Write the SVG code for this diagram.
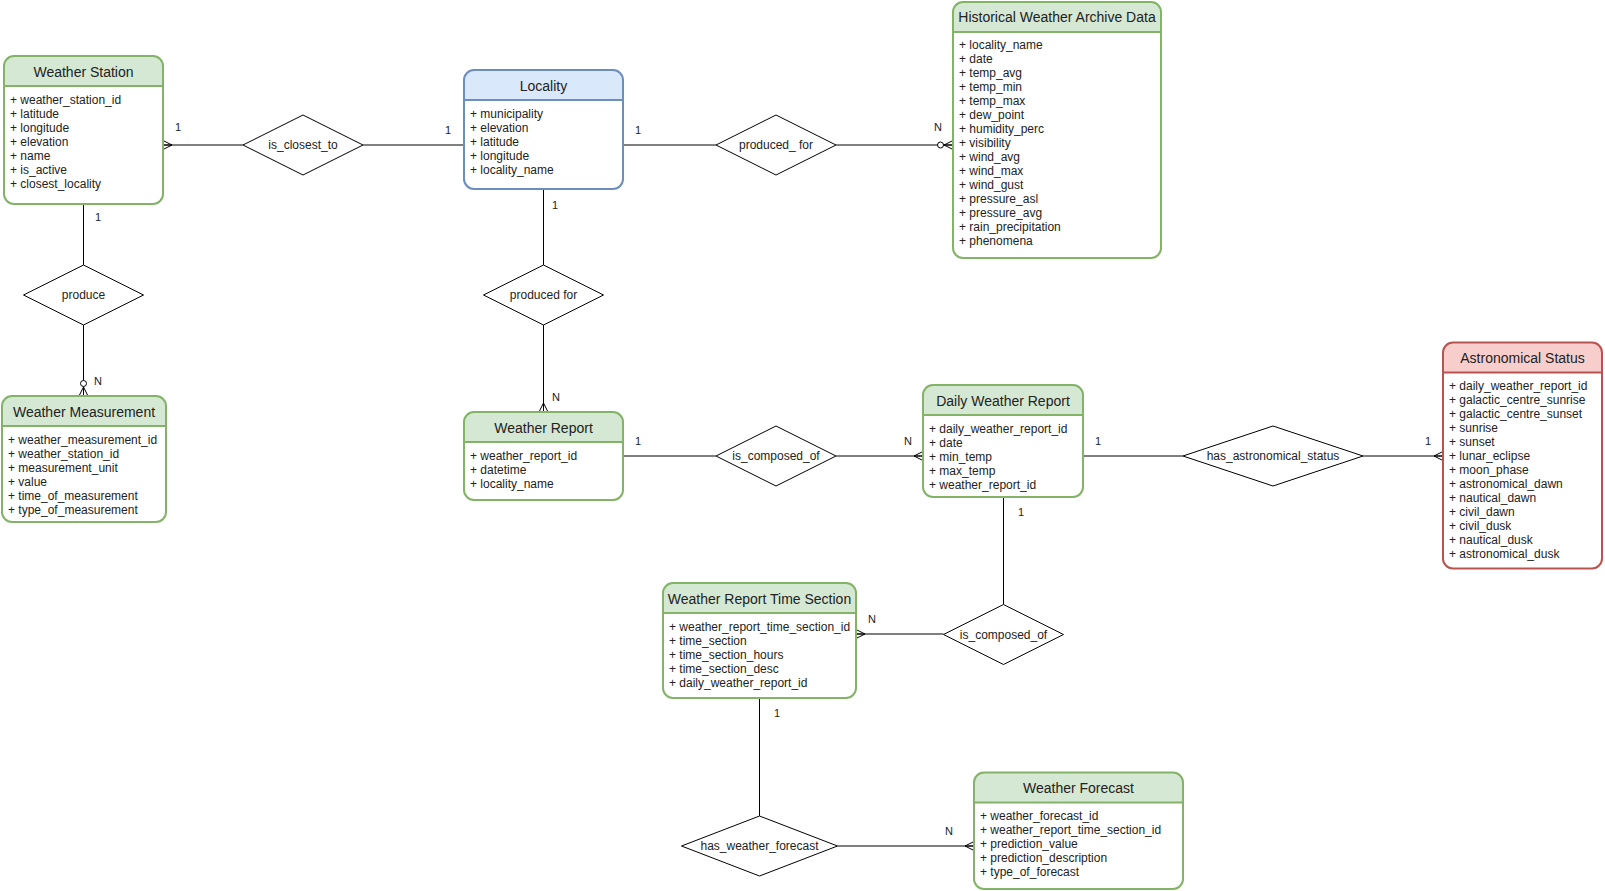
<svg xmlns="http://www.w3.org/2000/svg" width="1605" height="891" viewBox="0 0 1605 891">
<style>
  .bg { fill: #ffffff; }
  .box-g { fill: none; stroke: #82b366; stroke-width: 2; }
  .hdr-g { fill: #d5e8d4; }
  .box-b { fill: none; stroke: #6c8ebf; stroke-width: 2; }
  .hdr-b { fill: #dae8fc; }
  .box-r { fill: none; stroke: #b85450; stroke-width: 2; }
  .hdr-r { fill: #f8cecc; }
  .body { fill: #ffffff; }
  .title { font-family: "Liberation Sans", Arial, sans-serif; font-size: 14px; fill: #222222; text-anchor: middle; }
  .attr { font-family: "Liberation Sans", Arial, sans-serif; font-size: 12px; fill: #222222; }
  .rel { fill: #ffffff; stroke: #000000; stroke-width: 1; }
  .rel-t { font-family: "Liberation Sans", Arial, sans-serif; font-size: 12px; fill: #222222; text-anchor: middle; }
  .edge { fill: none; stroke: #000000; stroke-width: 1; }
  .card { font-family: "Liberation Sans", Arial, sans-serif; font-size: 11px; fill: #222222; text-anchor: middle; }
</style>
<defs>
  <marker id="many" viewBox="-12 -6 13 12" refX="0" refY="0" markerWidth="13" markerHeight="12" markerUnits="userSpaceOnUse" orient="auto" overflow="visible">
    <path d="M-9,0 L0,-4.5 M-9,0 L0,4.5 M-9,0 L0,0" fill="none" stroke="#000000" stroke-width="1"/>
  </marker>
  <marker id="zmany" viewBox="-17 -6 18 12" refX="0" refY="0" markerWidth="18" markerHeight="12" markerUnits="userSpaceOnUse" orient="auto" overflow="visible">
    <path d="M-9,0 L0,-4.5 M-9,0 L0,4.5 M-9,0 L0,0" fill="none" stroke="#000000" stroke-width="1"/>
    <circle cx="-12.5" cy="0" r="3" fill="#ffffff" stroke="#000000" stroke-width="1"/>
  </marker>
</defs>
<rect class="bg" x="0" y="0" width="1605" height="891"/>

<g id="connectors">
  <path class="edge" d="M243,145 H163" marker-end="url(#many)"/>
  <path class="edge" d="M363,145 H464"/>
  <path class="edge" d="M623,145 H716"/>
  <path class="edge" d="M836,145 H953" marker-end="url(#zmany)"/>
  <path class="edge" d="M83.5,204 V265"/>
  <path class="edge" d="M83.5,325 V396" marker-end="url(#zmany)"/>
  <path class="edge" d="M543.5,189 V265"/>
  <path class="edge" d="M543.5,325 V412" marker-end="url(#many)"/>
  <path class="edge" d="M623,456 H716"/>
  <path class="edge" d="M836,456 H923" marker-end="url(#many)"/>
  <path class="edge" d="M1083,456 H1183"/>
  <path class="edge" d="M1363,456 H1443" marker-end="url(#many)"/>
  <path class="edge" d="M1003.5,497 V604.5"/>
  <path class="edge" d="M943.5,634 H856" marker-end="url(#many)"/>
  <path class="edge" d="M759.5,698 V816"/>
  <path class="edge" d="M837.5,846 H974" marker-end="url(#many)"/>
  <g id="cardinalities">
    <text class="card" x="178" y="131">1</text>
    <text class="card" x="448" y="134">1</text>
    <text class="card" x="638" y="134">1</text>
    <text class="card" x="938" y="131">N</text>
    <text class="card" x="98" y="221">1</text>
    <text class="card" x="98" y="385">N</text>
    <text class="card" x="555" y="209">1</text>
    <text class="card" x="556" y="401">N</text>
    <text class="card" x="638" y="445">1</text>
    <text class="card" x="908" y="445">N</text>
    <text class="card" x="1098" y="445">1</text>
    <text class="card" x="1428" y="445">1</text>
    <text class="card" x="1021" y="516">1</text>
    <text class="card" x="872" y="623">N</text>
    <text class="card" x="777" y="717">1</text>
    <text class="card" x="949" y="835">N</text>
  </g>
</g>

<g id="rel-is-closest-to">
  <polygon class="rel" points="243,145 303,115 363,145 303,175"/>
  <text class="rel-t" x="303" y="149">is_closest_to</text>
</g>
<g id="rel-produced-for-archive">
  <polygon class="rel" points="716,145 776,115 836,145 776,175"/>
  <text class="rel-t" x="776" y="149">produced_ for</text>
</g>
<g id="rel-produce">
  <polygon class="rel" points="23.5,295 83.5,265 143.5,295 83.5,325"/>
  <text class="rel-t" x="83.5" y="299">produce</text>
</g>
<g id="rel-produced-for-report">
  <polygon class="rel" points="483.5,295 543.5,265 603.5,295 543.5,325"/>
  <text class="rel-t" x="543.5" y="299">produced for</text>
</g>
<g id="rel-is-composed-of-1">
  <polygon class="rel" points="716,456 776,426 836,456 776,486"/>
  <text class="rel-t" x="776" y="460">is_composed_of</text>
</g>
<g id="rel-has-astronomical-status">
  <polygon class="rel" points="1183,456 1273,426 1363,456 1273,486"/>
  <text class="rel-t" x="1273" y="460">has_astronomical_status</text>
</g>
<g id="rel-is-composed-of-2">
  <polygon class="rel" points="943.5,634.5 1003.5,604.5 1063.5,634.5 1003.5,664.5"/>
  <text class="rel-t" x="1003.5" y="638.5">is_composed_of</text>
</g>
<g id="rel-has-weather-forecast">
  <polygon class="rel" points="681.5,846 759.5,816 837.5,846 759.5,876"/>
  <text class="rel-t" x="759.5" y="850">has_weather_forecast</text>
</g>

<g id="weather-station">
  <rect class="body" x="4" y="56" width="159" height="148" rx="10"/>
  <path class="hdr-g" d="M4,86 V66 A10,10 0 0 1 14,56 H153 A10,10 0 0 1 163,66 V86 Z"/>
  <rect class="box-g" x="4" y="56" width="159" height="148" rx="10"/>
  <line class="box-g" x1="4" y1="86" x2="163" y2="86"/>
  <text class="title" x="83.5" y="77">Weather Station</text>
  <text class="attr" y="103.5"><tspan x="10">+ weather_station_id</tspan><tspan x="10" dy="14">+ latitude</tspan><tspan x="10" dy="14">+ longitude</tspan><tspan x="10" dy="14">+ elevation</tspan><tspan x="10" dy="14">+ name</tspan><tspan x="10" dy="14">+ is_active</tspan><tspan x="10" dy="14">+ closest_locality</tspan></text>
</g>

<g id="locality">
  <rect class="body" x="464" y="70" width="159" height="119" rx="10"/>
  <path class="hdr-b" d="M464,100 V80 A10,10 0 0 1 474,70 H613 A10,10 0 0 1 623,80 V100 Z"/>
  <rect class="box-b" x="464" y="70" width="159" height="119" rx="10"/>
  <line class="box-b" x1="464" y1="100" x2="623" y2="100"/>
  <text class="title" x="543.5" y="91">Locality</text>
  <text class="attr" y="117.5"><tspan x="470">+ municipality</tspan><tspan x="470" dy="14">+ elevation</tspan><tspan x="470" dy="14">+ latitude</tspan><tspan x="470" dy="14">+ longitude</tspan><tspan x="470" dy="14">+ locality_name</tspan></text>
</g>

<g id="historical-weather-archive-data">
  <rect class="body" x="953" y="2" width="208" height="256" rx="10"/>
  <path class="hdr-g" d="M953,32 V12 A10,10 0 0 1 963,2 H1151 A10,10 0 0 1 1161,12 V32 Z"/>
  <rect class="box-g" x="953" y="2" width="208" height="256" rx="10"/>
  <line class="box-g" x1="953" y1="32" x2="1161" y2="32"/>
  <text class="title" x="1057" y="22">Historical Weather Archive Data</text>
  <text class="attr" y="49"><tspan x="959">+ locality_name</tspan><tspan x="959" dy="14">+ date</tspan><tspan x="959" dy="14">+ temp_avg</tspan><tspan x="959" dy="14">+ temp_min</tspan><tspan x="959" dy="14">+ temp_max</tspan><tspan x="959" dy="14">+ dew_point</tspan><tspan x="959" dy="14">+ humidity_perc</tspan><tspan x="959" dy="14">+ visibility</tspan><tspan x="959" dy="14">+ wind_avg</tspan><tspan x="959" dy="14">+ wind_max</tspan><tspan x="959" dy="14">+ wind_gust</tspan><tspan x="959" dy="14">+ pressure_asl</tspan><tspan x="959" dy="14">+ pressure_avg</tspan><tspan x="959" dy="14">+ rain_precipitation</tspan><tspan x="959" dy="14">+ phenomena</tspan></text>
</g>

<g id="weather-measurement">
  <rect class="body" x="2" y="396" width="164" height="126" rx="10"/>
  <path class="hdr-g" d="M2,426 V406 A10,10 0 0 1 12,396 H156 A10,10 0 0 1 166,406 V426 Z"/>
  <rect class="box-g" x="2" y="396" width="164" height="126" rx="10"/>
  <line class="box-g" x1="2" y1="426" x2="166" y2="426"/>
  <text class="title" x="84" y="417">Weather Measurement</text>
  <text class="attr" y="443.5"><tspan x="8">+ weather_measurement_id</tspan><tspan x="8" dy="14">+ weather_station_id</tspan><tspan x="8" dy="14">+ measurement_unit</tspan><tspan x="8" dy="14">+ value</tspan><tspan x="8" dy="14">+ time_of_measurement</tspan><tspan x="8" dy="14">+ type_of_measurement</tspan></text>
</g>

<g id="weather-report">
  <rect class="body" x="464" y="412" width="159" height="88" rx="10"/>
  <path class="hdr-g" d="M464,442 V422 A10,10 0 0 1 474,412 H613 A10,10 0 0 1 623,422 V442 Z"/>
  <rect class="box-g" x="464" y="412" width="159" height="88" rx="10"/>
  <line class="box-g" x1="464" y1="442" x2="623" y2="442"/>
  <text class="title" x="543.5" y="433">Weather Report</text>
  <text class="attr" y="459.5"><tspan x="470">+ weather_report_id</tspan><tspan x="470" dy="14">+ datetime</tspan><tspan x="470" dy="14">+ locality_name</tspan></text>
</g>

<g id="daily-weather-report">
  <rect class="body" x="923" y="385" width="160" height="112" rx="10"/>
  <path class="hdr-g" d="M923,415 V395 A10,10 0 0 1 933,385 H1073 A10,10 0 0 1 1083,395 V415 Z"/>
  <rect class="box-g" x="923" y="385" width="160" height="112" rx="10"/>
  <line class="box-g" x1="923" y1="415" x2="1083" y2="415"/>
  <text class="title" x="1003" y="406">Daily Weather Report</text>
  <text class="attr" y="432.5"><tspan x="929">+ daily_weather_report_id</tspan><tspan x="929" dy="14">+ date</tspan><tspan x="929" dy="14">+ min_temp</tspan><tspan x="929" dy="14">+ max_temp</tspan><tspan x="929" dy="14">+ weather_report_id</tspan></text>
</g>

<g id="astronomical-status">
  <rect class="body" x="1443" y="342.5" width="159" height="226" rx="10"/>
  <path class="hdr-r" d="M1443,372.5 V352.5 A10,10 0 0 1 1453,342.5 H1592 A10,10 0 0 1 1602,352.5 V372.5 Z"/>
  <rect class="box-r" x="1443" y="342.5" width="159" height="226" rx="10"/>
  <line class="box-r" x1="1443" y1="372.5" x2="1602" y2="372.5"/>
  <text class="title" x="1522.5" y="363">Astronomical Status</text>
  <text class="attr" y="390"><tspan x="1449">+ daily_weather_report_id</tspan><tspan x="1449" dy="14">+ galactic_centre_sunrise</tspan><tspan x="1449" dy="14">+ galactic_centre_sunset</tspan><tspan x="1449" dy="14">+ sunrise</tspan><tspan x="1449" dy="14">+ sunset</tspan><tspan x="1449" dy="14">+ lunar_eclipse</tspan><tspan x="1449" dy="14">+ moon_phase</tspan><tspan x="1449" dy="14">+ astronomical_dawn</tspan><tspan x="1449" dy="14">+ nautical_dawn</tspan><tspan x="1449" dy="14">+ civil_dawn</tspan><tspan x="1449" dy="14">+ civil_dusk</tspan><tspan x="1449" dy="14">+ nautical_dusk</tspan><tspan x="1449" dy="14">+ astronomical_dusk</tspan></text>
</g>

<g id="weather-report-time-section">
  <rect class="body" x="663" y="583" width="193" height="115" rx="10"/>
  <path class="hdr-g" d="M663,613 V593 A10,10 0 0 1 673,583 H846 A10,10 0 0 1 856,593 V613 Z"/>
  <rect class="box-g" x="663" y="583" width="193" height="115" rx="10"/>
  <line class="box-g" x1="663" y1="613" x2="856" y2="613"/>
  <text class="title" x="759.5" y="604">Weather Report Time Section</text>
  <text class="attr" y="630.5"><tspan x="669">+ weather_report_time_section_id</tspan><tspan x="669" dy="14">+ time_section</tspan><tspan x="669" dy="14">+ time_section_hours</tspan><tspan x="669" dy="14">+ time_section_desc</tspan><tspan x="669" dy="14">+ daily_weather_report_id</tspan></text>
</g>

<g id="weather-forecast">
  <rect class="body" x="974" y="772.5" width="209" height="116.5" rx="10"/>
  <path class="hdr-g" d="M974,802.5 V782.5 A10,10 0 0 1 984,772.5 H1173 A10,10 0 0 1 1183,782.5 V802.5 Z"/>
  <rect class="box-g" x="974" y="772.5" width="209" height="116.5" rx="10"/>
  <line class="box-g" x1="974" y1="802.5" x2="1183" y2="802.5"/>
  <text class="title" x="1078.5" y="793">Weather Forecast</text>
  <text class="attr" y="819.5"><tspan x="980">+ weather_forecast_id</tspan><tspan x="980" dy="14">+ weather_report_time_section_id</tspan><tspan x="980" dy="14">+ prediction_value</tspan><tspan x="980" dy="14">+ prediction_description</tspan><tspan x="980" dy="14">+ type_of_forecast</tspan></text>
</g>
</svg>
